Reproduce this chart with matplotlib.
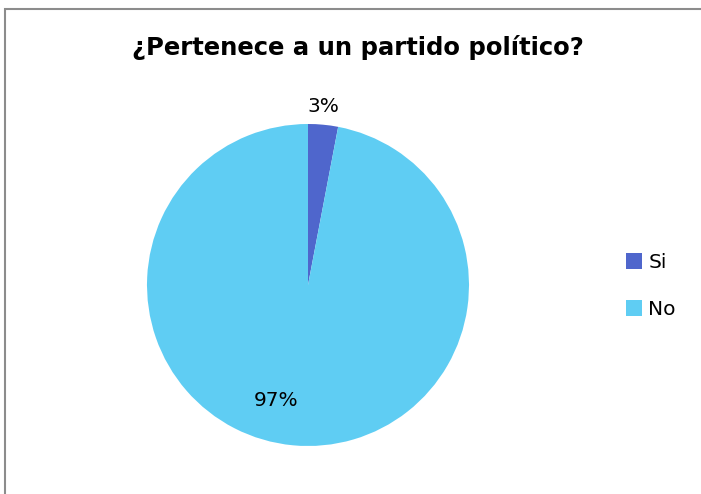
import matplotlib.pyplot as plt
from matplotlib.patches import Rectangle

labels = ['Si', 'No']
values = [3, 97]
colors = ['#4F66CC', '#5FCDF3']

W, H = 701, 494
fig = plt.figure(figsize=(W / 100, H / 100), dpi=100)

# chart border (cut off on right and bottom like the screenshot)
fig.patches.append(Rectangle((5 / W, -0.1), 1.2, (H - 9) / H + 0.1,
                             transform=fig.transFigure, fill=False,
                             edgecolor='#8c8c8c', linewidth=1.5))

# pie occupies a square box centred at (308, 285) px, radius 161 px
cx, cy, r = 308, 285, 161
ax = fig.add_axes([(cx - r) / W, (H - cy - r) / H, 2 * r / W, 2 * r / H])
wedges, texts, autotexts = ax.pie(values, colors=colors, startangle=90,
                                  counterclock=False, autopct='%1.0f%%',
                                  pctdistance=0.74, radius=1,
                                  textprops={'fontsize': 14.5})
ax.set_xlim(-1, 1)
ax.set_ylim(-1, 1)
ax.set_aspect('equal')
autotexts[0].set_position((15 / r, 179 / r))
autotexts[1].set_position((-32 / r, -115 / r))

fig.text(0.5 * (130 + 585) / W, 1 - 47 / H, '¿Pertenece a un partido político?',
         ha='center', va='center', fontsize=17.5, fontweight='bold')

fig.legend(wedges, labels, loc='center left', bbox_to_anchor=(608 / W, 1 - 286 / H),
           frameon=False, fontsize=14.5, handlelength=0.8, handleheight=0.8,
           handletextpad=0.3, labelspacing=1.4)

fig.savefig('out.png', dpi=100)
